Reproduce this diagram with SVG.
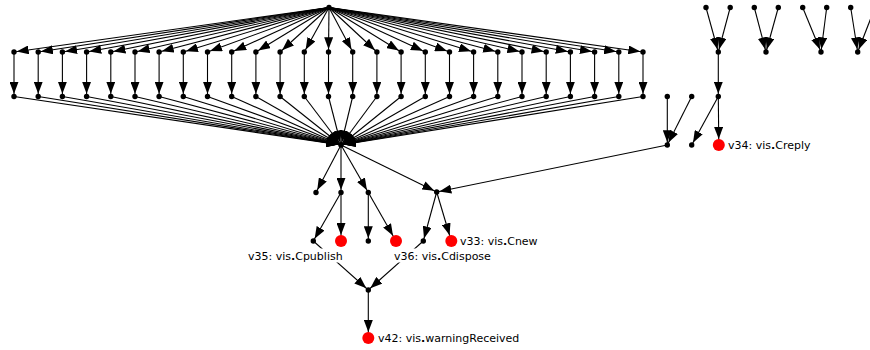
<svg xmlns="http://www.w3.org/2000/svg" width="870" height="350" viewBox="0 0 870 350">
  <style>
    .e { stroke: #000; stroke-width: 1.1; fill: none; marker-end: url(#arr); }
    .er { stroke: #000; stroke-width: 1.1; fill: none; marker-end: url(#arrRed); }
    .pt { fill: #000; }
    .rd { fill: #ff0000; }
    .lbl { font-family: "DejaVu Sans", "Liberation Sans", sans-serif; font-size: 11px; fill: #000; }
    .lbg { fill: #fff; }
  </style>
  <defs>
    <!-- arrowhead whose tip stops at the rim of a small point node -->
    <marker id="arr" viewBox="0 0 12 9" refX="14.7" refY="4.5" markerWidth="12" markerHeight="9" markerUnits="userSpaceOnUse" orient="auto">
      <path d="M0,0 L12,4.5 L0,9 z" fill="#000"/>
    </marker>
    <!-- arrowhead whose tip stops at the rim of a red node -->
    <marker id="arrRed" viewBox="0 0 12 9" refX="18" refY="4.5" markerWidth="12" markerHeight="9" markerUnits="userSpaceOnUse" orient="auto">
      <path d="M0,0 L12,4.5 L0,9 z" fill="#000"/>
    </marker>
  </defs>

  <g id="edges">
    <!-- fan-out from the root -->
    <line class="e" x1="329" y1="7.5" x2="14" y2="52"/>
    <line class="e" x1="329" y1="7.5" x2="38.2" y2="52"/>
    <line class="e" x1="329" y1="7.5" x2="62.4" y2="52"/>
    <line class="e" x1="329" y1="7.5" x2="86.6" y2="52"/>
    <line class="e" x1="329" y1="7.5" x2="110.8" y2="52"/>
    <line class="e" x1="329" y1="7.5" x2="135" y2="52"/>
    <line class="e" x1="329" y1="7.5" x2="159.1" y2="52"/>
    <line class="e" x1="329" y1="7.5" x2="183.3" y2="52"/>
    <line class="e" x1="329" y1="7.5" x2="207.5" y2="52"/>
    <line class="e" x1="329" y1="7.5" x2="231.7" y2="52"/>
    <line class="e" x1="329" y1="7.5" x2="255.9" y2="52"/>
    <line class="e" x1="329" y1="7.5" x2="280.1" y2="52"/>
    <line class="e" x1="329" y1="7.5" x2="304.3" y2="52"/>
    <line class="e" x1="329" y1="7.5" x2="328.5" y2="52"/>
    <line class="e" x1="329" y1="7.5" x2="352.7" y2="52"/>
    <line class="e" x1="329" y1="7.5" x2="376.9" y2="52"/>
    <line class="e" x1="329" y1="7.5" x2="401.1" y2="52"/>
    <line class="e" x1="329" y1="7.5" x2="425.3" y2="52"/>
    <line class="e" x1="329" y1="7.5" x2="449.5" y2="52"/>
    <line class="e" x1="329" y1="7.5" x2="473.6" y2="52"/>
    <line class="e" x1="329" y1="7.5" x2="497.8" y2="52"/>
    <line class="e" x1="329" y1="7.5" x2="522" y2="52"/>
    <line class="e" x1="329" y1="7.5" x2="546.2" y2="52"/>
    <line class="e" x1="329" y1="7.5" x2="570.4" y2="52"/>
    <line class="e" x1="329" y1="7.5" x2="594.6" y2="52"/>
    <line class="e" x1="329" y1="7.5" x2="618.8" y2="52"/>
    <line class="e" x1="329" y1="7.5" x2="643" y2="52"/>

    <!-- vertical links -->
    <line class="e" x1="14" y1="52" x2="14" y2="96.5"/>
    <line class="e" x1="38.2" y1="52" x2="38.2" y2="96.5"/>
    <line class="e" x1="62.4" y1="52" x2="62.4" y2="96.5"/>
    <line class="e" x1="86.6" y1="52" x2="86.6" y2="96.5"/>
    <line class="e" x1="110.8" y1="52" x2="110.8" y2="96.5"/>
    <line class="e" x1="135" y1="52" x2="135" y2="96.5"/>
    <line class="e" x1="159.1" y1="52" x2="159.1" y2="96.5"/>
    <line class="e" x1="183.3" y1="52" x2="183.3" y2="96.5"/>
    <line class="e" x1="207.5" y1="52" x2="207.5" y2="96.5"/>
    <line class="e" x1="231.7" y1="52" x2="231.7" y2="96.5"/>
    <line class="e" x1="255.9" y1="52" x2="255.9" y2="96.5"/>
    <line class="e" x1="280.1" y1="52" x2="280.1" y2="96.5"/>
    <line class="e" x1="304.3" y1="52" x2="304.3" y2="96.5"/>
    <line class="e" x1="328.5" y1="52" x2="328.5" y2="96.5"/>
    <line class="e" x1="352.7" y1="52" x2="352.7" y2="96.5"/>
    <line class="e" x1="376.9" y1="52" x2="376.9" y2="96.5"/>
    <line class="e" x1="401.1" y1="52" x2="401.1" y2="96.5"/>
    <line class="e" x1="425.3" y1="52" x2="425.3" y2="96.5"/>
    <line class="e" x1="449.5" y1="52" x2="449.5" y2="96.5"/>
    <line class="e" x1="473.6" y1="52" x2="473.6" y2="96.5"/>
    <line class="e" x1="497.8" y1="52" x2="497.8" y2="96.5"/>
    <line class="e" x1="522" y1="52" x2="522" y2="96.5"/>
    <line class="e" x1="546.2" y1="52" x2="546.2" y2="96.5"/>
    <line class="e" x1="570.4" y1="52" x2="570.4" y2="96.5"/>
    <line class="e" x1="594.6" y1="52" x2="594.6" y2="96.5"/>
    <line class="e" x1="618.8" y1="52" x2="618.8" y2="96.5"/>
    <line class="e" x1="643" y1="52" x2="643" y2="96.5"/>

    <!-- fan-in to the hub -->
    <line class="e" x1="14" y1="96.5" x2="341" y2="145"/>
    <line class="e" x1="38.2" y1="96.5" x2="341" y2="145"/>
    <line class="e" x1="62.4" y1="96.5" x2="341" y2="145"/>
    <line class="e" x1="86.6" y1="96.5" x2="341" y2="145"/>
    <line class="e" x1="110.8" y1="96.5" x2="341" y2="145"/>
    <line class="e" x1="135" y1="96.5" x2="341" y2="145"/>
    <line class="e" x1="159.1" y1="96.5" x2="341" y2="145"/>
    <line class="e" x1="183.3" y1="96.5" x2="341" y2="145"/>
    <line class="e" x1="207.5" y1="96.5" x2="341" y2="145"/>
    <line class="e" x1="231.7" y1="96.5" x2="341" y2="145"/>
    <line class="e" x1="255.9" y1="96.5" x2="341" y2="145"/>
    <line class="e" x1="280.1" y1="96.5" x2="341" y2="145"/>
    <line class="e" x1="304.3" y1="96.5" x2="341" y2="145"/>
    <line class="e" x1="328.5" y1="96.5" x2="341" y2="145"/>
    <line class="e" x1="352.7" y1="96.5" x2="341" y2="145"/>
    <line class="e" x1="376.9" y1="96.5" x2="341" y2="145"/>
    <line class="e" x1="401.1" y1="96.5" x2="341" y2="145"/>
    <line class="e" x1="425.3" y1="96.5" x2="341" y2="145"/>
    <line class="e" x1="449.5" y1="96.5" x2="341" y2="145"/>
    <line class="e" x1="473.6" y1="96.5" x2="341" y2="145"/>
    <line class="e" x1="497.8" y1="96.5" x2="341" y2="145"/>
    <line class="e" x1="522" y1="96.5" x2="341" y2="145"/>
    <line class="e" x1="546.2" y1="96.5" x2="341" y2="145"/>
    <line class="e" x1="570.4" y1="96.5" x2="341" y2="145"/>
    <line class="e" x1="594.6" y1="96.5" x2="341" y2="145"/>
    <line class="e" x1="618.8" y1="96.5" x2="341" y2="145"/>
    <line class="e" x1="643" y1="96.5" x2="341" y2="145"/>

    <!-- hub outward -->
    <line class="e" x1="341" y1="145" x2="316" y2="192.5"/>
    <line class="e" x1="341" y1="145" x2="341" y2="192.5"/>
    <line class="e" x1="341" y1="145" x2="368.3" y2="192.5"/>
    <line class="e" x1="341" y1="145" x2="436.7" y2="192"/>
    <line class="e" x1="667.3" y1="145" x2="436.7" y2="192"/>

    <line class="e" x1="341" y1="192.5" x2="313.3" y2="241"/>
    <line class="er" x1="341" y1="192.5" x2="341" y2="241"/>
    <line class="e" x1="368.3" y1="192.5" x2="368.3" y2="241"/>
    <line class="er" x1="368.3" y1="192.5" x2="396" y2="241"/>
    <line class="e" x1="436.7" y1="192" x2="423.3" y2="241"/>
    <line class="er" x1="436.7" y1="192" x2="451.3" y2="241"/>

    <line class="e" x1="313.3" y1="241" x2="368.3" y2="290"/>
    <line class="e" x1="423.3" y1="241" x2="368.3" y2="290"/>
    <line class="er" x1="368.3" y1="290" x2="368.3" y2="338"/>

    <!-- right-hand clusters -->
    <line class="e" x1="706" y1="7.5" x2="718.3" y2="52"/>
    <line class="e" x1="730.2" y1="7.5" x2="718.3" y2="52"/>
    <line class="e" x1="754.3" y1="7.5" x2="766" y2="52"/>
    <line class="e" x1="778.3" y1="7.5" x2="766" y2="52"/>
    <line class="e" x1="802.7" y1="7.5" x2="821" y2="52"/>
    <line class="e" x1="826.7" y1="7.5" x2="821" y2="52"/>
    <line class="e" x1="850.7" y1="7.5" x2="857.7" y2="52"/>
    <line class="e" x1="875" y1="7.5" x2="857.7" y2="52"/>

    <line class="e" x1="718.3" y1="52" x2="718.3" y2="96.5"/>
    <line class="er" x1="718.3" y1="96.5" x2="718.8" y2="145"/>
    <line class="e" x1="718.3" y1="96.5" x2="691.7" y2="145"/>
    <line class="e" x1="667.3" y1="96.5" x2="667.3" y2="145"/>
    <line class="e" x1="691.7" y1="96.5" x2="667.3" y2="145"/>
  </g>

  <g id="nodes">
    <g id="root"><circle class="pt" cx="329" cy="7.5" r="2.7"/></g>

    <g id="a0"><circle class="pt" cx="14" cy="52" r="2.7"/></g>
    <g id="a1"><circle class="pt" cx="38.2" cy="52" r="2.7"/></g>
    <g id="a2"><circle class="pt" cx="62.4" cy="52" r="2.7"/></g>
    <g id="a3"><circle class="pt" cx="86.6" cy="52" r="2.7"/></g>
    <g id="a4"><circle class="pt" cx="110.8" cy="52" r="2.7"/></g>
    <g id="a5"><circle class="pt" cx="135" cy="52" r="2.7"/></g>
    <g id="a6"><circle class="pt" cx="159.1" cy="52" r="2.7"/></g>
    <g id="a7"><circle class="pt" cx="183.3" cy="52" r="2.7"/></g>
    <g id="a8"><circle class="pt" cx="207.5" cy="52" r="2.7"/></g>
    <g id="a9"><circle class="pt" cx="231.7" cy="52" r="2.7"/></g>
    <g id="a10"><circle class="pt" cx="255.9" cy="52" r="2.7"/></g>
    <g id="a11"><circle class="pt" cx="280.1" cy="52" r="2.7"/></g>
    <g id="a12"><circle class="pt" cx="304.3" cy="52" r="2.7"/></g>
    <g id="a13"><circle class="pt" cx="328.5" cy="52" r="2.7"/></g>
    <g id="a14"><circle class="pt" cx="352.7" cy="52" r="2.7"/></g>
    <g id="a15"><circle class="pt" cx="376.9" cy="52" r="2.7"/></g>
    <g id="a16"><circle class="pt" cx="401.1" cy="52" r="2.7"/></g>
    <g id="a17"><circle class="pt" cx="425.3" cy="52" r="2.7"/></g>
    <g id="a18"><circle class="pt" cx="449.5" cy="52" r="2.7"/></g>
    <g id="a19"><circle class="pt" cx="473.6" cy="52" r="2.7"/></g>
    <g id="a20"><circle class="pt" cx="497.8" cy="52" r="2.7"/></g>
    <g id="a21"><circle class="pt" cx="522" cy="52" r="2.7"/></g>
    <g id="a22"><circle class="pt" cx="546.2" cy="52" r="2.7"/></g>
    <g id="a23"><circle class="pt" cx="570.4" cy="52" r="2.7"/></g>
    <g id="a24"><circle class="pt" cx="594.6" cy="52" r="2.7"/></g>
    <g id="a25"><circle class="pt" cx="618.8" cy="52" r="2.7"/></g>
    <g id="a26"><circle class="pt" cx="643" cy="52" r="2.7"/></g>

    <g id="b0"><circle class="pt" cx="14" cy="96.5" r="2.7"/></g>
    <g id="b1"><circle class="pt" cx="38.2" cy="96.5" r="2.7"/></g>
    <g id="b2"><circle class="pt" cx="62.4" cy="96.5" r="2.7"/></g>
    <g id="b3"><circle class="pt" cx="86.6" cy="96.5" r="2.7"/></g>
    <g id="b4"><circle class="pt" cx="110.8" cy="96.5" r="2.7"/></g>
    <g id="b5"><circle class="pt" cx="135" cy="96.5" r="2.7"/></g>
    <g id="b6"><circle class="pt" cx="159.1" cy="96.5" r="2.7"/></g>
    <g id="b7"><circle class="pt" cx="183.3" cy="96.5" r="2.7"/></g>
    <g id="b8"><circle class="pt" cx="207.5" cy="96.5" r="2.7"/></g>
    <g id="b9"><circle class="pt" cx="231.7" cy="96.5" r="2.7"/></g>
    <g id="b10"><circle class="pt" cx="255.9" cy="96.5" r="2.7"/></g>
    <g id="b11"><circle class="pt" cx="280.1" cy="96.5" r="2.7"/></g>
    <g id="b12"><circle class="pt" cx="304.3" cy="96.5" r="2.7"/></g>
    <g id="b13"><circle class="pt" cx="328.5" cy="96.5" r="2.7"/></g>
    <g id="b14"><circle class="pt" cx="352.7" cy="96.5" r="2.7"/></g>
    <g id="b15"><circle class="pt" cx="376.9" cy="96.5" r="2.7"/></g>
    <g id="b16"><circle class="pt" cx="401.1" cy="96.5" r="2.7"/></g>
    <g id="b17"><circle class="pt" cx="425.3" cy="96.5" r="2.7"/></g>
    <g id="b18"><circle class="pt" cx="449.5" cy="96.5" r="2.7"/></g>
    <g id="b19"><circle class="pt" cx="473.6" cy="96.5" r="2.7"/></g>
    <g id="b20"><circle class="pt" cx="497.8" cy="96.5" r="2.7"/></g>
    <g id="b21"><circle class="pt" cx="522" cy="96.5" r="2.7"/></g>
    <g id="b22"><circle class="pt" cx="546.2" cy="96.5" r="2.7"/></g>
    <g id="b23"><circle class="pt" cx="570.4" cy="96.5" r="2.7"/></g>
    <g id="b24"><circle class="pt" cx="594.6" cy="96.5" r="2.7"/></g>
    <g id="b25"><circle class="pt" cx="618.8" cy="96.5" r="2.7"/></g>
    <g id="b26"><circle class="pt" cx="643" cy="96.5" r="2.7"/></g>

    <g id="hub"><circle class="pt" cx="341" cy="145" r="2.7"/></g>

    <g id="c1"><circle class="pt" cx="316" cy="192.5" r="2.7"/></g>
    <g id="c2"><circle class="pt" cx="341" cy="192.5" r="2.7"/></g>
    <g id="c3"><circle class="pt" cx="368.3" cy="192.5" r="2.7"/></g>
    <g id="c4"><circle class="pt" cx="436.7" cy="192" r="2.7"/></g>

    <g id="v35">
      <circle class="pt" cx="313.3" cy="241" r="2.7"/>
      <rect class="lbg" x="248" y="248.5" width="94" height="14"/>
      <text class="lbl" x="248" y="259.5">v35: vis<tspan font-weight="bold">.</tspan>Cpublish</text>
    </g>
    <g id="r1"><circle class="rd" cx="341" cy="241" r="6"/></g>
    <g id="d3"><circle class="pt" cx="368.3" cy="241" r="2.7"/></g>
    <g id="r2"><circle class="rd" cx="396" cy="241" r="6"/></g>
    <g id="v36">
      <circle class="pt" cx="423.3" cy="241" r="2.7"/>
      <rect class="lbg" x="394" y="248.5" width="95" height="14"/>
      <text class="lbl" x="394" y="259.5">v36: vis<tspan font-weight="bold">.</tspan>Cdispose</text>
    </g>
    <g id="v33">
      <circle class="rd" cx="451.3" cy="241" r="6"/>
      <text class="lbl" x="460" y="245">v33: vis<tspan font-weight="bold">.</tspan>Cnew</text>
    </g>

    <g id="join"><circle class="pt" cx="368.3" cy="290" r="2.7"/></g>
    <g id="v42">
      <circle class="rd" cx="368.3" cy="338" r="6"/>
      <text class="lbl" x="378" y="342">v42: vis<tspan font-weight="bold">.</tspan>warningReceived</text>
    </g>

    <g id="p1"><circle class="pt" cx="706" cy="7.5" r="2.7"/></g>
    <g id="p2"><circle class="pt" cx="730.2" cy="7.5" r="2.7"/></g>
    <g id="p3"><circle class="pt" cx="754.3" cy="7.5" r="2.7"/></g>
    <g id="p4"><circle class="pt" cx="778.3" cy="7.5" r="2.7"/></g>
    <g id="p5"><circle class="pt" cx="802.7" cy="7.5" r="2.7"/></g>
    <g id="p6"><circle class="pt" cx="826.7" cy="7.5" r="2.7"/></g>
    <g id="p7"><circle class="pt" cx="850.7" cy="7.5" r="2.7"/></g>

    <g id="q1"><circle class="pt" cx="718.3" cy="52" r="2.7"/></g>
    <g id="q2"><circle class="pt" cx="766" cy="52" r="2.7"/></g>
    <g id="q3"><circle class="pt" cx="821" cy="52" r="2.7"/></g>
    <g id="q4"><circle class="pt" cx="857.7" cy="52" r="2.7"/></g>

    <g id="t1"><circle class="pt" cx="718.3" cy="96.5" r="2.7"/></g>
    <g id="u1"><circle class="pt" cx="667.3" cy="96.5" r="2.7"/></g>
    <g id="u2"><circle class="pt" cx="691.7" cy="96.5" r="2.7"/></g>
    <g id="w1"><circle class="pt" cx="667.3" cy="145" r="2.7"/></g>
    <g id="w2"><circle class="pt" cx="691.7" cy="145" r="2.7"/></g>
    <g id="v34">
      <circle class="rd" cx="718.8" cy="145" r="6"/>
      <text class="lbl" x="728" y="149">v34: vis<tspan font-weight="bold">.</tspan>Creply</text>
    </g>
  </g>
</svg>
